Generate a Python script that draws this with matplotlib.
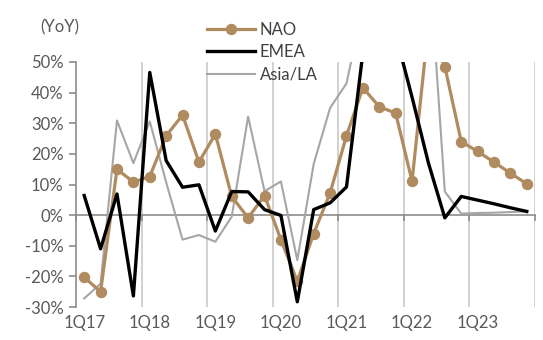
import matplotlib
matplotlib.use("Agg")
import matplotlib.pyplot as plt
import numpy as np

plt.rcParams['font.family'] = ['Lato', 'DejaVu Sans']

# quarterly YoY growth, 1Q17 .. 4Q23 (values above 50% run off the top of the chart)
quarters = [f"{q}Q{y}" for y in range(17, 24) for q in range(1, 5)]
nao = [-20.3, -25.0, 15.0, 10.8, 12.6, 25.9, 32.7, 17.3,
       26.5, 6.1, -0.9, 6.4, -8.0, -21.6, -6.0, 7.2,
       25.9, 41.6, 35.4, 33.3, 11.1, 62.0, 48.5, 24.0,
       20.8, 17.3, 13.7, 10.2]
emea = [6.4, -11.0, 6.9, -26.4, 46.6, 17.8, 9.1, 9.9,
        -5.2, 7.7, 7.6, 1.8, -0.1, -28.3, 1.8, 4.0,
        9.2, 53.0, 75.0, 59.0, 38.5, 17.0, -0.9, 6.1,
        4.9, 3.7, 2.4, 1.2]
asia_la = [-27.2, -22.4, 30.9, 17.0, 30.6, 10.7, -8.0, -6.5,
           -8.7, -0.5, 32.2, 7.8, 11.0, -14.7, 16.7, 35.0,
           43.0, 68.0, 90.0, 100.0, 95.0, 87.0, 7.7, 0.5,
           0.7, 0.8, 1.0, 1.2]
yticks = [-30, -20, -10, 0, 10, 20, 30, 40, 50]

txt_color = '#595959'
axis_color = '#8c8c8c'
grid_color = '#c9c9c9'

fig = plt.figure(figsize=(5.43, 3.40), dpi=100)
ax = fig.add_axes([76/543, 1-307/340, (535-76)/543, (307-62)/340])

x = np.arange(len(quarters))
ax.plot(x, nao, color='#b08b60', lw=2.3, marker='o', ms=7.2, label='NAO', zorder=3)
ax.plot(x, emea, color='black', lw=2.4, label='EMEA', zorder=4)
ax.plot(x, asia_la, color='#a6a6a6', lw=1.5, label='Asia/LA', zorder=2)

ax.set_xlim(-0.5, len(quarters) - 0.5)
ax.set_ylim(-30, 50)

# year separators
bounds = np.arange(3.5, len(quarters), 4)
for b in bounds:
    ax.axvline(b, color=grid_color, lw=1.2, zorder=1)

# category labels along the bottom
ax.set_xticks(x[::4])
ax.set_xticklabels(quarters[::4])
ax.tick_params(axis='x', length=0, pad=6, labelsize=12, labelcolor=txt_color)

ax.set_yticks(yticks)
ax.set_yticklabels([f"{v}%" for v in yticks])
ax.tick_params(axis='y', length=5, width=1.2, color=axis_color, pad=4,
               labelsize=12, labelcolor=txt_color)

for s in ['top', 'right', 'bottom']:
    ax.spines[s].set_visible(False)
ax.spines['left'].set_color(axis_color)
ax.spines['left'].set_linewidth(1.2)

# zero line with tick marks at year boundaries
zx = ax.secondary_xaxis(0, transform=ax.transData)
zx.set_xticks(np.append(bounds, -0.5))
zx.tick_params(axis='x', length=4, width=1.2, color=axis_color, labelbottom=False)
zx.spines['bottom'].set_color(axis_color)
zx.spines['bottom'].set_linewidth(1.2)
zx.set_zorder(1.5)

fig.text(40/543, 1-27/340, '(YoY)', color=txt_color, fontsize=12, va='center', ha='left')

ax.legend(loc='upper left', bbox_to_anchor=(207/543, 1-22/340), bbox_transform=fig.transFigure,
          frameon=False, fontsize=12, handlelength=2.9, handletextpad=0.25,
          labelspacing=0.38, borderpad=0, borderaxespad=0, labelcolor='#404040')

fig.savefig('out.png', dpi=100)
